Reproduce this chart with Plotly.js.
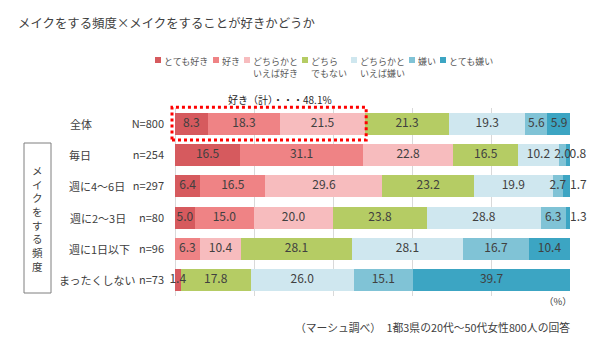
<!DOCTYPE html>
<html>
<head>
<meta charset="utf-8">
<script src="https://cdn.plot.ly/plotly-3.0.1.min.js"></script>
<style>html,body{margin:0;padding:0;background:#fff;}#chart{width:600px;height:345px;}</style>
</head>
<body>
<div id="chart"></div>
<script>
// ---- data ----
const categories = ['全体', '毎日', '週に4～6日', '週に2～3日', '週に1日以下', 'まったくしない'];
const nLabels = ['N=800', 'n=254', 'n=297', 'n=80', 'n=96', 'n=73'];
const seriesNames = ['とても好き', '好き', 'どちらかと<br>いえば好き', 'どちら<br>でもない', 'どちらかと<br>いえば嫌い', '嫌い', 'とても嫌い'];
const veryLike    = [8.3, 16.5, 6.4, 5.0, 0, 1.4];
const like        = [18.3, 31.1, 16.5, 15.0, 6.3, 0];
const ratherLike  = [21.5, 22.8, 29.6, 20.0, 10.4, 0];
const neutral     = [21.3, 16.5, 23.2, 23.8, 28.1, 17.8];
const ratherDis   = [19.3, 10.2, 19.9, 28.8, 28.1, 26.0];
const dislike     = [5.6, 2.0, 2.7, 6.3, 16.7, 15.1];
const veryDislike = [5.9, 0.8, 1.7, 1.3, 10.4, 39.7];
const seriesValues = [veryLike, like, ratherLike, neutral, ratherDis, dislike, veryDislike];
const titleText = 'メイクをする頻度×メイクをすることが好きかどうか';
const axisGroupLabel = 'メイクをする頻度';
const unitLabel = '（%）';
const sourceText = '（マーシュ調べ）　1都3県の20代～50代女性800人の回答';

// ---- style ----
const colors = ['#d65a5e', '#ef8385', '#f7bcbe', '#b5cc64', '#cfe7ef', '#80c3d6', '#3ca5c3'];
const FONT = '"Noto Sans CJK JP", "Noto Sans", sans-serif';
const W = 600, H = 345, ML = 175, MR = 30, MT = 108, MB = 49;
const plotW = W - ML - MR, plotH = H - MT - MB;
const pxX = px => (px - ML) / plotW;
const pxY = py => (H - MB - py) / plotH;
const catLabelPx = [68, 67, 67, 68, 67, 57];
const legendSquarePx = [155, 213, 244, 302, 351, 409, 440];
const legendTextPx = [162, 220, 251, 309, 358, 416, 447];
const X_MAX = 100;

const traces = seriesValues.map((vals, i) => ({
  type: 'bar',
  orientation: 'h',
  name: seriesNames[i],
  y: categories,
  x: vals,
  marker: {color: colors[i], line: {width: 0}},
  hoverinfo: 'none',
  showlegend: false
}));

// value labels drawn on top of all bars, at each segment's midpoint
// (tiny last segments get their label just past the bar end)
const labX = [], labY = [], labT = [], labPos = [];
categories.forEach((c, r) => {
  let cum = 0;
  seriesValues.forEach((vals, i) => {
    const v = vals[r];
    if (v > 0) {
      const outside = (i === seriesValues.length - 1 && v < 3);
      labX.push(outside ? Math.min(cum + v, X_MAX) : cum + v / 2);
      labY.push(c);
      labT.push(v.toFixed(1));
      labPos.push(outside ? 'middle right' : 'middle center');
    }
    cum += v;
  });
});
traces.push({
  type: 'scatter', mode: 'text',
  x: labX, y: labY, text: labT, textposition: labPos,
  textfont: {family: FONT, size: 12, color: '#404040'},
  cliponaxis: false, hoverinfo: 'none', showlegend: false
});

const annotations = [];
const shapes = [];

// category names
categories.forEach((c, i) => {
  annotations.push({
    xref: 'paper', yref: 'y', x: pxX(catLabelPx[i]), y: c,
    xanchor: 'left', yanchor: 'middle', showarrow: false,
    text: c, font: {family: FONT, size: 11, color: '#404040'}
  });
});

// custom legend
seriesNames.forEach((n, i) => {
  shapes.push({
    type: 'rect', xref: 'paper', yref: 'paper',
    x0: pxX(legendSquarePx[i]), x1: pxX(legendSquarePx[i] + 6),
    y0: pxY(63), y1: pxY(57),
    fillcolor: colors[i], line: {width: 0}
  });
  annotations.push({
    xref: 'paper', yref: 'paper', x: pxX(legendTextPx[i]), y: pxY(53),
    xanchor: 'left', yanchor: 'top', align: 'left', showarrow: false,
    text: n, font: {family: FONT, size: 9, color: '#595959'}
  });
});

// highlighted "like" total on first row
const likeTotal = veryLike[0] + like[0] + ratherLike[0];
const nRows = categories.length;
const rowC = 1 - 0.5 / nRows, rowHalf = 0.52 / nRows;
shapes.push({
  type: 'rect', xref: 'paper', yref: 'paper',
  x0: pxX(172), x1: (likeTotal + 0.3) / X_MAX,
  y0: rowC - rowHalf, y1: rowC + rowHalf,
  line: {color: '#ff0000', width: 3, dash: 'dot'}, fillcolor: 'rgba(0,0,0,0)'
});
annotations.push({
  xref: 'paper', yref: 'paper', x: pxX(280), y: pxY(100),
  xanchor: 'center', yanchor: 'middle', showarrow: false,
  text: '好き（計）・・・' + likeTotal.toFixed(1) + '%',
  font: {family: FONT, size: 10, color: '#262626'}
});

// vertical group box
shapes.push({
  type: 'rect', xref: 'paper', yref: 'paper',
  x0: pxX(24), x1: pxX(51), y0: pxY(293), y1: pxY(143),
  line: {color: '#7f7f7f', width: 1}, fillcolor: 'rgba(0,0,0,0)'
});
annotations.push({
  xref: 'paper', yref: 'paper', x: pxX(37.5), y: pxY(218),
  xanchor: 'center', yanchor: 'middle', showarrow: false,
  text: axisGroupLabel.split('').join('<br>'),
  font: {family: FONT, size: 10.5, color: '#404040'}
});

// unit and source
annotations.push({
  xref: 'paper', yref: 'paper', x: pxX(558), y: pxY(301),
  xanchor: 'center', yanchor: 'middle', showarrow: false,
  text: unitLabel, font: {family: FONT, size: 9.5, color: '#404040'}
});
annotations.push({
  xref: 'paper', yref: 'paper', x: pxX(572), y: pxY(327),
  xanchor: 'right', yanchor: 'middle', showarrow: false,
  text: sourceText, font: {family: FONT, size: 10.8, color: '#404040'}
});

const layout = {
  width: W, height: H,
  margin: {l: ML, r: MR, t: MT, b: MB, pad: 0},
  paper_bgcolor: '#ffffff', plot_bgcolor: '#ffffff',
  font: {family: FONT, color: '#404040'},
  title: {
    text: titleText, xref: 'container', yref: 'container',
    x: 18 / W, xanchor: 'left', y: 1 - 24 / H, yanchor: 'middle',
    font: {family: FONT, size: 12.4, color: '#404040'}
  },
  barmode: 'stack',
  bargap: 0.3,
  showlegend: false,
  xaxis: {
    range: [0, X_MAX], dtick: 20, tick0: 0,
    showgrid: true, gridcolor: '#d9d9d9', gridwidth: 1,
    zeroline: true, zerolinecolor: '#d9d9d9', zerolinewidth: 1,
    showticklabels: false, ticks: '', showline: false, fixedrange: true
  },
  yaxis: {
    type: 'category', categoryorder: 'array', categoryarray: categories,
    range: [nRows - 0.5, -0.5],
    tickvals: categories, ticktext: nLabels,
    ticks: '', ticklabelstandoff: 10,
    tickfont: {family: FONT, size: 11, color: '#404040'},
    showgrid: false, zeroline: false, showline: false, fixedrange: true
  },
  shapes: shapes,
  annotations: annotations
};

Plotly.newPlot('chart', traces, layout, {displayModeBar: false, staticPlot: true});
</script>
</body>
</html>
